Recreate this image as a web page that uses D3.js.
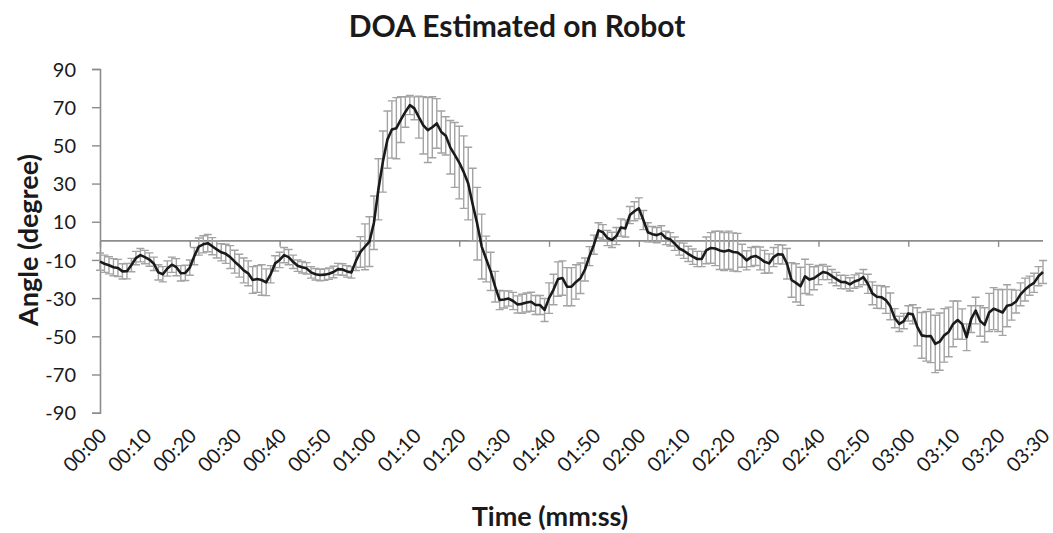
<!DOCTYPE html>
<html>
<head>
<meta charset="utf-8">
<script src="https://cdn.jsdelivr.net/npm/d3@7"></script>
<style>
  html, body { margin: 0; padding: 0; background: #fff; }
  svg { display: block; }
  text { font-family: Lato, "Open Sans", "Liberation Sans", sans-serif; fill: #1a1a1a; }
</style>
</head>
<body>
<svg id="chart" width="1053" height="533"></svg>
<script>
// ---- data (seconds since start, DOA angle in degrees, error half-width) ----
const seconds = d3.range(0, 211); // one sample per second, 00:00 .. 03:30
const angles = [
  -10.9, -12, -12.8, -13.8, -14.2, -16, -15.9, -12.7, -9, -7.5,
  -8.5, -9.8, -12, -16.5, -17.5, -14.5, -12.5, -13.8, -17, -16.8,
  -14, -8, -3, -1.8, -1.2, -2.8, -4.5, -6, -6.8, -8.5,
  -10.9, -13, -15.5, -17, -20.5, -20, -20.5, -21.7, -17.5, -11.8,
  -10, -7.5, -8.5, -11, -13, -13.8, -14.4, -16.5, -17.5, -17.9,
  -17.7, -17.2, -16.3, -14.8, -15, -16, -16.5, -10.5, -5.8, -3.1,
  -0.4, 9.5, 27, 41.5, 53, 58.3, 59, 63.5, 67.5, 71.1,
  69.4, 64.8, 60.5, 58, 59.5, 61.5, 57, 55, 49, 45,
  41, 36, 30, 19, 9, -3, -9.5, -16, -24, -31,
  -30.7, -30.2, -31.5, -33.3, -33, -32.3, -31.9, -33.6, -33.6, -36.2,
  -30, -25.5, -20, -19.5, -24, -24, -21.5, -19.6, -15, -8,
  -2, 5.5, 4.5, 1.5, 0.5, 2.5, 7, 6.5, 13.5, 15.5,
  17, 10.9, 4.5, 3.5, 3, 3.9, 1.5, 0.8, -1.5, -4,
  -5.2, -6.8, -8.3, -9.5, -9.5, -5, -3.7, -4, -5, -5.6,
  -4.9, -5.8, -6.1, -7.8, -10.2, -8.5, -7.9, -9.2, -11, -11.8,
  -8.5, -7, -7.2, -12, -20.5, -22, -23.8, -18.6, -20.3, -19.6,
  -17.9, -16.3, -16.8, -18.5, -20, -21.5, -21.6, -22.8, -21.3, -20.5,
  -19, -22.5, -27.5, -29.3, -29.5, -31, -34.3, -40.5, -43.5, -42,
  -38, -38.5, -45, -49.5, -50, -49.8, -54, -52.8, -49.5, -47.7,
  -43.5, -41.5, -43.6, -50.5, -41, -36.5, -42, -44, -37.5, -35.5,
  -36.5, -37.5, -34, -33.5, -31.8, -28, -25.5, -23.5, -22, -18.5,
  -16.3
];
const errors = [
  4.5, 4.5, 4.5, 4.5, 4.5, 4, 4, 3.5, 3.5, 3.5,
  3.5, 3.5, 3.5, 4, 4, 4, 4, 4.5, 4, 4,
  4, 4.5, 4.5, 4.5, 4.5, 4.5, 4.5, 4.5, 5, 6,
  6, 6, 6.5, 6.5, 7, 7, 8, 7, 4.5, 4,
  4, 4, 4, 3.5, 3, 3, 3, 3, 3, 3,
  3, 3, 3, 3, 3, 3, 3, 5, 8, 12,
  13, 14, 16, 16, 15, 15, 16, 12, 8, 5,
  6, 11, 15, 17, 16, 13, 11, 10, 14, 17,
  19, 19, 19, 19, 19, 17, 12, 10, 8, 5,
  4.5, 4, 4.5, 4.5, 5, 5, 5, 5, 5, 6,
  8, 8, 9, 9, 10, 10, 9, 8, 6, 5,
  5, 4, 4, 4, 4, 4.5, 4.5, 4.5, 4.5, 5,
  5.5, 5, 5, 4, 4, 4, 3.5, 3.5, 3.5, 3.5,
  4, 4, 4, 4, 4, 7, 8, 9, 10, 10,
  10, 10, 10, 6, 5, 5, 5, 6, 6, 5,
  5, 5, 5, 8, 9, 10, 10, 9, 8, 6,
  5, 4, 3.5, 3.5, 3.5, 3.5, 3.5, 3.5, 3.5, 3.5,
  4, 5, 6, 6, 6, 7, 7, 5, 4, 4,
  4, 5, 10, 12, 13, 14, 15, 15, 14, 13,
  12, 10, 8, 7, 7, 7, 8, 9, 10, 11,
  11, 12, 11, 8, 6, 6, 6, 5, 5, 5,
  6
];
const yTicks = [-90, -70, -50, -30, -10, 10, 30, 50, 70, 90];
const xTickSeconds = [0, 10, 20, 30, 40, 50, 60, 70, 80, 90, 100, 110, 120, 130, 140, 150, 160, 170, 180, 190, 200, 210];
const xTickLabels = ["00:00", "00:10", "00:20", "00:30", "00:40", "00:50", "01:00", "01:10", "01:20", "01:30", "01:40",
                     "01:50", "02:00", "02:10", "02:20", "02:30", "02:40", "02:50", "03:00", "03:10", "03:20", "03:30"];
const xMarkSeconds = [0, 20, 40, 60, 80, 100, 120, 140, 160, 180, 200];
const titleText = "DOA Estimated on Robot";
const xTitle = "Time (mm:ss)";
const yTitle = "Angle (degree)";

// ---- drawing ----
const svg = d3.select("#chart");
const x = d3.scaleLinear().domain([0, 210]).range([100, 1043]);
const y = d3.scaleLinear().domain([-90, 90]).range([412.7, 69]);
const axisColor = "#8c8c8c";
const errColor = "#a3a3a3";

const data = seconds.map((s, i) => ({ s, v: angles[i], e: errors[i] }));

// Y axis
const yAxis = d3.axisLeft(y).tickValues(yTicks).tickSize(8).tickFormat(d3.format("d"));
const gy = svg.append("g").attr("transform", `translate(${x(0)},0)`).call(yAxis);
gy.select(".domain").attr("stroke", axisColor).attr("stroke-width", 1.6);
gy.selectAll(".tick line").attr("stroke", axisColor).attr("stroke-width", 1.4);
gy.selectAll(".tick text")
  .attr("x", -24)
  .style("font-size", "20px")
  .style("fill", "#1a1a1a")
  .attr("dy", "0.36em");
gy.selectAll(".tick text").text(d => d < 0 ? "-" + Math.abs(d) : d);

// X axis line at zero with tick marks every 20 s
const xAxis = d3.axisBottom(x).tickValues(xMarkSeconds).tickSize(6).tickFormat("");
const gx = svg.append("g").attr("transform", `translate(0,${y(0)})`).call(xAxis);
gx.select(".domain").attr("stroke", axisColor).attr("stroke-width", 1.8).attr("d", `M${x(0)},0H${x(210)}`);
gx.selectAll(".tick line").attr("stroke", axisColor).attr("stroke-width", 1.4);

// X tick labels at bottom (rotated)
svg.append("g").selectAll("text")
  .data(xTickSeconds)
  .join("text")
  .attr("transform", d => `translate(${x(d) + 8},${437}) rotate(-45)`)
  .attr("text-anchor", "end")
  .style("font-size", "20px")
  .text((d, i) => xTickLabels[i]);

// Error bars
const capW = 4;
const eb = svg.append("g").attr("stroke", errColor).attr("stroke-width", 1.4).attr("fill", "none");
eb.selectAll("path")
  .data(data)
  .join("path")
  .attr("d", d => {
    const cx = x(d.s), y1 = y(d.v + d.e), y2 = y(d.v - d.e);
    return `M${cx},${y1}V${y2}M${cx - capW},${y1}H${cx + capW}M${cx - capW},${y2}H${cx + capW}`;
  });

// Mean line
const line = d3.line().x(d => x(d.s)).y(d => y(d.v));
svg.append("path")
  .datum(data)
  .attr("d", line)
  .attr("fill", "none")
  .attr("stroke", "#1a1a1a")
  .attr("stroke-width", 2.6)
  .attr("stroke-linejoin", "round");

// Titles
svg.append("text").attr("x", 517).attr("y", 37).attr("text-anchor", "middle")
  .style("font-size", "30px").style("font-weight", "bold").text(titleText);
svg.append("text").attr("x", 550).attr("y", 526).attr("text-anchor", "middle")
  .style("font-size", "27px").style("font-weight", "bold").text(xTitle);
svg.append("text").attr("transform", "translate(38,240) rotate(-90)").attr("text-anchor", "middle")
  .style("font-size", "27px").style("font-weight", "bold").text(yTitle);
</script>
</body>
</html>
